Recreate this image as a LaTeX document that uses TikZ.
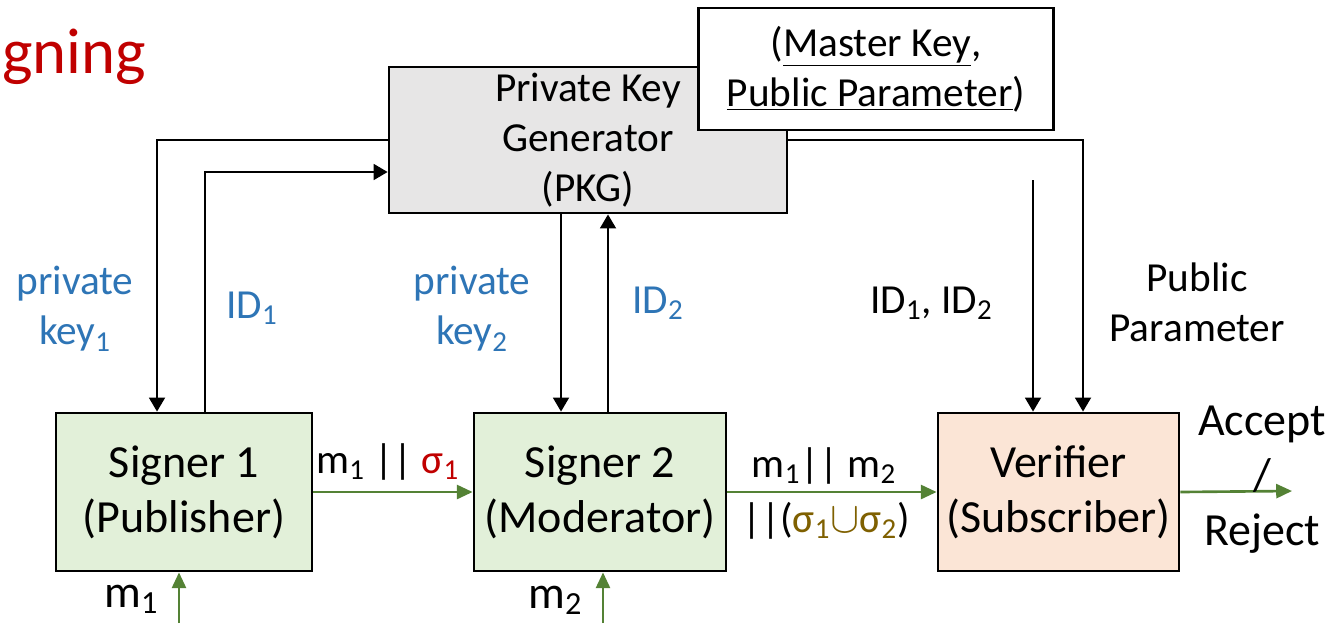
\documentclass[tikz,border=0pt]{standalone}
\usepackage{fontspec}
\setmainfont{Carlito}
\usepackage{xcolor}
\usepackage{tikz}
\usetikzlibrary{positioning}
\usetikzlibrary{arrows.meta}

\definecolor{keyblue}{HTML}{2E75B6}
\definecolor{sigred}{HTML}{C00000}
\definecolor{sigbrown}{HTML}{7F6000}
\definecolor{msggreen}{HTML}{548235}
\definecolor{pkgfill}{HTML}{E7E6E6}
\definecolor{signfill}{HTML}{E2F0D9}
\definecolor{verfill}{HTML}{FBE5D6}

\newcommand{\lblfont}{\fontsize{23.5}{28.5}\selectfont}
\newcommand{\boxfont}{\fontsize{26.2}{31.3}\selectfont}

\begin{document}
\begin{tikzpicture}[x=0.02cm,y=-0.02cm,
  box/.style={draw,line width=1.6pt,minimum height=3.16cm,align=center,font=\boxfont,inner sep=0pt},
  blk/.style={line width=1.4pt,-{Triangle[length=8pt,width=9pt]}},
  grn/.style={draw=msggreen,line width=1.5pt,-{Triangle[length=9pt,width=8pt]}},
  lbl/.style={font=\lblfont,align=center,inner sep=0pt}]
	  \useasboundingbox (0,0) rectangle (1334,623);
	  \node (title) [anchor=base west,inner sep=0pt,text=sigred,font=\fontsize{36.8}{40}\selectfont] at (2,73) {gning};
	  \node (S1) [box,fill=signfill,minimum width=5.12cm] at (184,492) {Signer 1\\(Publisher)};
	  \node (S2) [box,fill=signfill,minimum width=5.04cm] at (600,492) {Signer 2\\(Moderator)};
	  \node (V) [box,fill=verfill,minimum width=4.82cm] at (1058.5,492) {Verifier\\(Subscriber)};
	  \node (PKG) [draw,line width=1.6pt,fill=pkgfill,minimum width=7.96cm,minimum height=2.82cm,align=center,font=\lblfont] at (588,140) {Private Key\\Generator\\(PKG)};
	  \node (MK) [draw,line width=1.6pt,fill=white,minimum width=7.1cm,minimum height=2.44cm,align=center,font=\lblfont] at (876,69) {(\underline{Master Key},\\\underline{Public Parameter})};

	  \coordinate (k1) at ([xshift=-0.54cm]S1.north);
	  \coordinate (i1) at ([xshift=0.42cm]S1.north);
	  \coordinate (k2) at ([xshift=-0.78cm]S2.north);
	  \coordinate (i2) at ([xshift=0.16cm]S2.north);
	  \coordinate (pp) at ([xshift=0.49cm]V.north);
	  \coordinate (ids) at (1033,180);
	  \draw[blk] (PKG.west) -| (k1);
	  \draw[blk] (i1) |- ([yshift=-0.64cm]PKG.west);
	  \draw[blk] (k2 |- PKG.south) -- (k2);
	  \draw[blk] (i2) -- (i2 |- PKG.south);
	  \draw[blk] (PKG.east) -| (pp);
	  \draw[blk] (ids) -- (ids |- V.north);

	  \coordinate (out) at (1292,491);
	  \coordinate (m1in) at (179,623);
	  \coordinate (m2in) at (603,623);
	  \draw[grn] (S1.east) -- (S2.west);
	  \draw[grn] (S2.east) -- (V.west);
	  \draw[grn] (V.east) -- (out);
	  \draw[grn] (m1in) -- (m1in |- S1.south);
	  \draw[grn] (m2in) -- (m2in |- S2.south);

	  \node (pk1) [lbl,text=keyblue] at (75,309) {private\\key\textsubscript{1}};
	  \node (id1) [lbl,text=keyblue,anchor=base west] at (226,318) {ID\textsubscript{1}};
	  \node (pk2) [lbl,text=keyblue] at (472,309) {private\\key\textsubscript{2}};
	  \node (id2) [lbl,text=keyblue,anchor=base west] at (632,313) {ID\textsubscript{2}};
	  \node (idv) [lbl,anchor=base west] at (870,313) {ID\textsubscript{1}, ID\textsubscript{2}};
	  \node (ppl) [lbl] at (1197,302) {Public\\Parameter};
	  \node (sig1) [lbl,anchor=base west] at (316,473) {m\textsubscript{1} || \textcolor{sigred}{σ\textsubscript{1}}};
	  \node (sig2a) [lbl,anchor=base] at (824,477) {m\textsubscript{1}|| m\textsubscript{2}};
	  \node (sig2b) [lbl,anchor=base] at (826,532) {||(\textcolor{sigbrown}{σ\textsubscript{1}\ensuremath{\cup}σ\textsubscript{2}})};
	  \node (res) [lbl,font=\boxfont] at (1262,480) {Accept\\/\\Reject};
	  \node (m1) [lbl,font=\boxfont,anchor=base west] at (104,607) {m\textsubscript{1}};
	  \node (m2) [lbl,font=\boxfont,anchor=base west] at (528,608) {m\textsubscript{2}};
	\end{tikzpicture}
\end{document}
